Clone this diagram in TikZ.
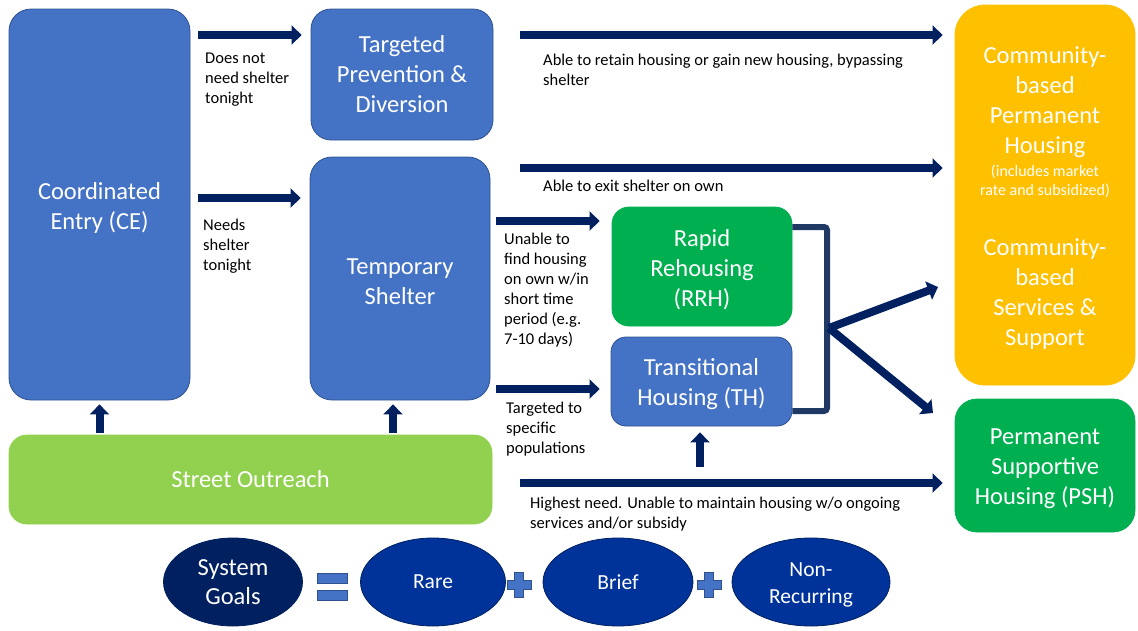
\documentclass[tikz,border=0pt]{standalone}
\usepackage{fontspec}
\setmainfont{Carlito}
\usetikzlibrary{arrows.meta,shapes.geometric}

\definecolor{boxblue}{HTML}{4472C4}
\definecolor{boxline}{HTML}{2F528F}
\definecolor{navy}{HTML}{002060}
\definecolor{bracketblue}{HTML}{203864}
\definecolor{boxgreen}{HTML}{00B050}
\definecolor{limegreen}{HTML}{92D050}
\definecolor{gold}{HTML}{FFC000}
\definecolor{goalblue}{HTML}{003399}

\newcommand{\bigtxt}{\fontsize{24.5}{30}\selectfont}
\newcommand{\goaltxt}{\fontsize{21.5}{27}\selectfont}
\newcommand{\smalltxt}{\fontsize{16.5}{20}\selectfont}
\newcommand{\tinytxt}{\fontsize{16}{19}\selectfont}
\newcommand{\topstrut}{\rule{0pt}{23pt}}

\begin{document}
\begin{tikzpicture}[x=1pt, y=-1pt,
    box/.style={rectangle, rounded corners=20pt, draw=boxline, line width=0.8pt, fill=boxblue,
      text=white, align=center, inner sep=0pt, font=\bigtxt},
    flow/.style={navy, line width=8pt, -{Triangle[length=10pt,width=19pt]}},
    note/.style={anchor=north west, align=left, inner sep=0pt, font=\smalltxt},
    goal/.style={ellipse, draw=navy, line width=0.8pt, fill=goalblue, text=white,
      minimum height=88pt, inner sep=0pt, align=center, font=\goaltxt}]
  \useasboundingbox (0,0) rectangle (1138,630);

  % boxes
  \node[box, minimum width=181pt, minimum height=391pt, rounded corners=22pt] (ce) at (99.5,204.5) {\topstrut Coordinated\\Entry (CE)};
  \node[box, minimum width=182pt, minimum height=131pt] (tpd) at (402,74.5) {Targeted\\Prevention \&\\Diversion};
  \node[box, minimum width=180pt, minimum height=243pt, rounded corners=22pt] (ts) at (400,278.5) {\topstrut Temporary\\Shelter};
  \node[box, fill=boxgreen, draw=boxgreen, minimum width=180pt, minimum height=119pt, rounded corners=17pt] (rrh) at (702,266.5) {\topstrut Rapid\\Rehousing\\(RRH)};
  \node[box, minimum width=181pt, minimum height=89pt, rounded corners=15pt] (th) at (701.5,381.5) {\topstrut Transitional\\Housing (TH)};
  \node[box, fill=gold, draw=gold, minimum width=180pt, minimum height=380pt, rounded corners=30pt] (comm) at (1045,195) {};
  \node[box, fill=boxgreen, draw=boxgreen, minimum width=180pt, minimum height=133pt, rounded corners=22pt] (psh) at (1045,465.5) {\topstrut Permanent\\Supportive\\Housing (PSH)};
  \node[box, fill=limegreen, draw=limegreen, minimum width=483pt, minimum height=89pt, rounded corners=18pt] (street) at (250.5,479.5) {Street Outreach};

  % text in the yellow box
  \node[text=white, align=center, inner sep=0pt, font=\bigtxt] (permtxt) at (1045,102) {Community-\\based\\Permanent\\Housing};
  \node[text=white, align=center, inner sep=0pt, font=\tinytxt] (markettxt) at (1045,181) {(includes market\\rate and subsidized)};
  \node[text=white, align=center, inner sep=0pt, font=\bigtxt] (supporttxt) at (1045,294) {Community-\\based\\Services \&\\Support};

  % rows and free ends
  \coordinate (toprow) at (0,35);
  \coordinate (exitrow) at (0,168);
  \coordinate (needrow) at (0,198);
  \coordinate (rrhrow) at (0,221);
  \coordinate (throw) at (0,389);
  \coordinate (pshrow) at (0,483);
  \coordinate (tscol) at (393,0);
  \coordinate (thfeed) at (700,467);
  \coordinate (brtop) at (827,227);
  \coordinate (brbot) at (827,411);
  \coordinate (fork) at (829,328);
  \coordinate (tocomm) at (938,287);
  \coordinate (topsh) at (933,413);

  % arrows
  \draw[flow, shorten <=8pt, shorten >=9pt] (ce.east |- toprow) -- (tpd.west |- toprow);
  \draw[flow, shorten <=27pt, shorten >=12pt] (tpd.east |- toprow) -- (comm.west |- toprow);
  \draw[flow, shorten <=8pt, shorten >=9pt] (ce.east |- needrow) -- (ts.west |- needrow);
  \draw[flow, shorten <=30pt, shorten >=12pt] (ts.east |- exitrow) -- (comm.west |- exitrow);
  \draw[flow, shorten <=6pt, shorten >=12pt] (ts.east |- rrhrow) -- (rrh.west |- rrhrow);
  \draw[flow, shorten <=6pt, shorten >=11pt] (ts.east |- throw) -- (th.west |- throw);
  \draw[flow, shorten <=28pt, shorten >=12pt] (street.east |- pshrow) -- (psh.west |- pshrow);
  \draw[flow, shorten <=2pt, shorten >=4pt] (street.north -| ce.south) -- (ce.south);
  \draw[flow, shorten <=2pt, shorten >=4pt] (street.north -| tscol) -- (ts.south -| tscol);
  \draw[flow, shorten >=6pt] (thfeed) -- (th.south -| thfeed);

  % bracket round RRH and TH
  \draw[bracketblue, line width=6pt, rounded corners=3pt] (rrh.east |- brtop) -- (brtop) -- (brbot) -- (th.east |- brbot);
  \draw[flow] (fork) -- (tocomm);
  \draw[flow] (fork) -- (topsh);

  % labels
  \node[note] (dntxt) at (205,52.5) {Does not\\need shelter\\tonight};
  \node[note] (needtxt) at (203,218.5) {Needs\\shelter\\tonight};
  \node[note] (retaintxt) at (543,53.5) {Able to retain housing or gain new housing, bypassing\\shelter};
  \node[note] (exittxt) at (543,179.5) {Able to exit shelter on own};
  \node[note] (unabletxt) at (504,233) {Unable to\\find housing\\on own w/in\\short time\\period (e.g.\\7-10 days)};
  \node[note] (targettxt) at (506,401.5) {Targeted to\\specific\\populations};
  \node[note] (needtxt2) at (530,496.5) {Highest need. Unable to maintain housing w/o ongoing\\services and/or subsidy};

  % system goals
  \node[goal, fill=navy, minimum width=139pt, font=\bigtxt] (goals) at (233,582) {System\\[-1pt]Goals};
  \node[goal, minimum width=145pt] (rare) at (433,582) {Rare};
  \node[goal, minimum width=150pt] (brief) at (618,582) {Brief};
  \node[goal, minimum width=158pt] (nonrec) at (811,582) {\rule{0pt}{20pt}Non-\\Recurring};
  \filldraw[fill=boxblue, draw=boxline, line width=0.6pt] (317,573) rectangle (347,583) (317,590) rectangle (347,600);
  \foreach \px in {519,709}
    \filldraw[fill=boxblue, draw=boxline, line width=0.6pt]
      (\px-4.5,572) -- (\px+4.5,572) -- (\px+4.5,580) -- (\px+12,580) -- (\px+12,589) -- (\px+4.5,589)
      -- (\px+4.5,597) -- (\px-4.5,597) -- (\px-4.5,589) -- (\px-12,589) -- (\px-12,580) -- (\px-4.5,580) -- cycle;
\end{tikzpicture}
\end{document}
